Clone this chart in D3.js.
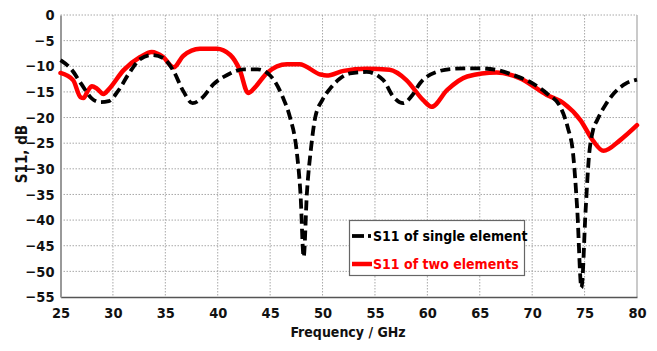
<!DOCTYPE html>
<html>
<head>
<meta charset="utf-8">
<script src="https://cdn.jsdelivr.net/npm/d3@7"></script>
<style>
  html, body { margin: 0; padding: 0; background: #fff; }
  svg { display: block; }
  text { font-family: "DejaVu Sans Condensed", "DejaVu Sans", sans-serif; font-weight: bold; }
</style>
</head>
<body>
<svg id="chart" width="657" height="351"></svg>
<script>
// Return loss of the single antenna element
const freqSingle = [25, 26, 27, 28, 28.8, 29.6, 30.5, 31.5, 32.6, 33.7, 34.8, 35.8, 36.7, 37.6, 38.5, 39.6, 40.9, 42.5, 43.8,
  45, 46.2, 46.9, 47.5, 47.9, 48.2, 48.5, 48.9, 49.3, 50, 50.7, 51.6, 52.6, 54.2, 55.8, 56.7, 57.7, 58.5, 59.3, 60.9,
  62.5, 63.8, 65, 66.6, 68.2, 70, 71.4, 72.7, 73.4, 73.9, 74.3, 74.7, 75.1, 75.4, 75.8, 76.2, 77, 77.7, 79, 80];
const s11Single = [-8.8, -10.5, -13.5, -16.3, -17.0, -16.8, -14.8, -11.5, -8.6, -7.8, -8.4, -11, -14.8, -17.2, -16.2, -13.5, -11.7, -10.6, -10.6,
  -11.8, -16, -20, -26, -35, -47.2, -35, -26, -20, -16.5, -14.4, -12.5, -11.4, -11.1, -12.7, -15.8, -17.2, -15.8, -13.3, -11.1,
  -10.5, -10.4, -10.4, -10.7, -11.7, -13.3, -15.3, -18, -22, -27, -38, -53.2, -38, -28, -22.5, -20.5, -17.5, -15.5, -13.3, -12.6];

// Return loss of the two-element array
const freqTwo = [25, 26.2, 26.9, 27.2, 27.6, 28, 28.5, 29.1, 29.6, 31, 32.6, 33.7, 34.8, 35.8, 36.7, 38.3, 39.9, 41.2, 42.1,
  42.9, 43.6, 44.7, 46.6, 47.8, 49.8, 50.4, 52, 54.2, 56.4, 58, 59.6, 60.4, 61.9, 63.8, 66.6, 68.8, 71.4, 73, 74.6, 75.8,
  76.8, 78.4, 80];
const s11Two = [-11.3, -12.7, -16.0, -16.2, -14.8, -13.9, -14.4, -15.4, -14.5, -10.8, -8.2, -7.2, -8.2, -10.2, -8, -6.6, -6.6, -7.8, -10.7,
  -15.2, -14, -11.3, -9.6, -9.6, -11.6, -11.8, -10.9, -10.5, -10.7, -12.7, -16.6, -17.9, -14.6, -12, -11.2, -12.3, -15.6, -17.2, -20.5, -24.5,
  -26.5, -24.4, -21.5];

const xTicks = [25, 30, 35, 40, 45, 50, 55, 60, 65, 70, 75, 80];
const yTicks = [0, -5, -10, -15, -20, -25, -30, -35, -40, -45, -50, -55];
const seriesNames = ["S11 of single element", "S11 of two elements"];

const svg = d3.select("#chart");
const plotL = 60.5, plotR = 637, plotT = 15, plotB = 297;

const x = d3.scaleLinear().domain([25, 80]).range([plotL, plotR]);
const y = d3.scaleLinear().domain([-55, 0]).range([plotB, plotT]);

// dotted grid
const grid = svg.append("g");
grid.selectAll("line.v").data(xTicks.slice(1, -1)).join("line")
  .attr("x1", d => x(d)).attr("x2", d => x(d)).attr("y1", plotT).attr("y2", plotB)
  .attr("stroke", "#a8a8a8").attr("stroke-width", 1).attr("stroke-dasharray", "1.5,1.5");
grid.selectAll("line.h").data(yTicks.slice(0, -1)).join("line")
  .attr("x1", plotL).attr("x2", plotR).attr("y1", d => y(d)).attr("y2", d => y(d))
  .attr("stroke", "#a8a8a8").attr("stroke-width", 1).attr("stroke-dasharray", "1.5,1.5");

// frame
svg.append("line").attr("x1", plotR).attr("x2", plotR).attr("y1", plotT).attr("y2", plotB)
  .attr("stroke", "#b8b8b8").attr("stroke-width", 1.5);

// axes
const tickFont = 14.5;
const xAxis = svg.append("g").attr("transform", `translate(0,${plotB})`)
  .call(d3.axisBottom(x).tickValues(xTicks).tickSize(0).tickPadding(11).tickFormat(d3.format("d")));
xAxis.select(".domain").attr("stroke", "#555").attr("stroke-width", 1.5);
xAxis.selectAll("text").attr("font-size", tickFont).attr("fill", "#111")
  .attr("font-family", "DejaVu Sans Condensed, DejaVu Sans, sans-serif").attr("font-weight", "bold");

const yAxis = svg.append("g").attr("transform", `translate(${plotL},0)`)
  .call(d3.axisLeft(y).tickValues(yTicks).tickSize(0).tickPadding(6).tickFormat(d3.format("d")));
yAxis.select(".domain").attr("stroke", "#999").attr("stroke-width", 2);
yAxis.selectAll("text").attr("font-size", tickFont).attr("fill", "#111")
  .attr("font-family", "DejaVu Sans Condensed, DejaVu Sans, sans-serif").attr("font-weight", "bold");

// axis titles
svg.append("text").attr("x", 348).attr("y", 337).attr("text-anchor", "middle")
  .attr("font-size", 14).attr("fill", "#111").text("Frequency / GHz");
svg.append("text").attr("transform", "translate(27,154) rotate(-90)").attr("text-anchor", "middle")
  .attr("font-size", 15).attr("fill", "#111").text("S11, dB");

// curves
const lineGen = d3.line().x(d => x(d[0])).y(d => y(d[1])).curve(d3.curveMonotoneX);

svg.append("path").datum(d3.zip(freqTwo, s11Two))
  .attr("d", lineGen).attr("fill", "none").attr("stroke", "#ff0000")
  .attr("stroke-width", 4.5).attr("stroke-linejoin", "round").attr("stroke-linecap", "round");

svg.append("path").datum(d3.zip(freqSingle, s11Single))
  .attr("d", lineGen).attr("fill", "none").attr("stroke", "#000")
  .attr("stroke-width", 3.8).attr("stroke-dasharray", "10,5").attr("stroke-linejoin", "round");

// legend
const lg = svg.append("g");
lg.append("rect").attr("x", 349.5).attr("y", 220.5).attr("width", 175).attr("height", 55)
  .attr("fill", "#fff").attr("stroke", "#666").attr("stroke-width", 1.2);
lg.append("line").attr("x1", 352).attr("x2", 364).attr("y1", 236).attr("y2", 236)
  .attr("stroke", "#000").attr("stroke-width", 3.8);
lg.append("line").attr("x1", 368).attr("x2", 371).attr("y1", 236).attr("y2", 236)
  .attr("stroke", "#000").attr("stroke-width", 3.8);
lg.append("line").attr("x1", 352).attr("x2", 372).attr("y1", 264).attr("y2", 264)
  .attr("stroke", "#ff0000").attr("stroke-width", 4.5);
lg.append("text").attr("x", 373).attr("y", 241).attr("font-size", 14).attr("fill", "#000").text(seriesNames[0]);
lg.append("text").attr("x", 373).attr("y", 269).attr("font-size", 14).attr("fill", "#ff0000").text(seriesNames[1]);
</script>
</body>
</html>
